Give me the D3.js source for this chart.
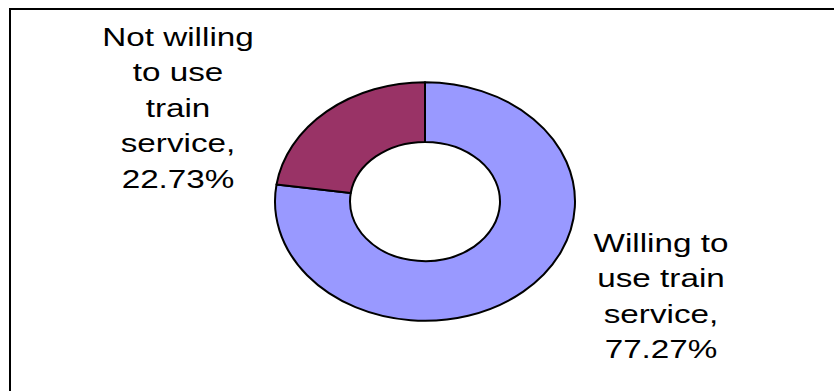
<!DOCTYPE html>
<html>
<head>
<meta charset="utf-8">
<script src="https://cdn.jsdelivr.net/npm/d3@7"></script>
<style>
  html, body { margin: 0; padding: 0; background: #fff; }
  svg { display: block; }
</style>
</head>
<body>
<svg id="chart" width="834" height="391"></svg>
<script>
// ---- data ----
const categories = ["Willing to use train service", "Not willing to use train service"];
const values = [77.27, 22.73];
const colors = ["#9999FF", "#993366"];
const labelLines = [
  ["Willing to", "use train", "service,"],
  ["Not willing", "to use", "train", "service,"]
];

// ---- layout ----
const W = 834, H = 391;
const cx = 425, cy = 201.5;
const outerR = 150, innerR = 75;
const yScale = 0.795;
const textStretch = 1.33;
const fontSize = 25;
const lineH = 35.5;
const labelPos = [
  { x: 661, firstBaseline: 251.5 },
  { x: 178, firstBaseline: 45.5 }
];

const svg = d3.select("#chart");

// border (chart area frame, clipped by the window at right/bottom)
svg.append("rect")
  .attr("x", 10).attr("y", 9)
  .attr("width", 1000).attr("height", 1000)
  .attr("fill", "#fff")
  .attr("stroke", "#000")
  .attr("stroke-width", 2);

const pie = d3.pie().sort(null).value(d => d)(values);
const arc = d3.arc().innerRadius(innerR).outerRadius(outerR);

const g = svg.append("g")
  .attr("transform", `translate(${cx},${cy}) scale(1,${yScale})`);

g.selectAll("path")
  .data(pie)
  .join("path")
  .attr("d", arc)
  .attr("fill", (d, i) => colors[i])
  .attr("stroke", "#000")
  .attr("stroke-width", 2)
  .attr("stroke-linejoin", "round")
  .attr("vector-effect", "non-scaling-stroke");

// labels
const fmt = v => v.toFixed(2) + "%";
pie.forEach((d, i) => {
  const lines = labelLines[i].concat([fmt(values[i])]);
  const p = labelPos[i];
  lines.forEach((ln, k) => {
    svg.append("text")
      .attr("transform", `translate(${p.x},${p.firstBaseline + k * lineH}) scale(${textStretch},1)`)
      .attr("text-anchor", "middle")
      .attr("font-family", "Liberation Sans, Arial, sans-serif")
      .attr("font-size", fontSize)
      .attr("fill", "#000")
      .text(ln);
  });
});
</script>
</body>
</html>
